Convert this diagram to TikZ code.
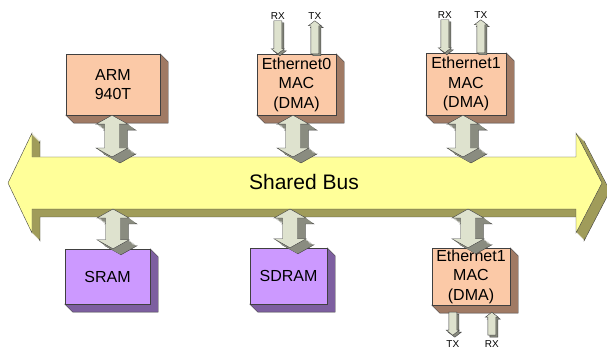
\documentclass[tikz,border=0pt]{standalone}
\usepackage{fontspec}
\setmainfont{Liberation Sans}
\usetikzlibrary{calc}

\definecolor{peach}{RGB}{251,201,167}
\definecolor{peachside}{RGB}{160,122,100}
\definecolor{lilac}{RGB}{204,153,255}
\definecolor{lilacside}{RGB}{125,95,160}
\definecolor{busfill}{RGB}{255,255,153}
\definecolor{busside}{RGB}{160,156,90}
\definecolor{linkfill}{RGB}{222,226,206}
\definecolor{linkside}{RGB}{138,140,128}

% front face of the bus arrow
\newcommand{\busshape}{(8,167) -- (32,217) -- (32,193) -- (576,193) -- (576,217) -- (602,167)
  -- (576,117) -- (576,141) -- (32,141) -- (32,117) -- cycle}
% x, top tip, bottom tip
\newcommand{\dblarrow}[3]{(#1,#2) -- ++(16,-9) -- ++(-8.5,0) -- (#1+7.5,#3+9) -- ++(8.5,0) -- (#1,#3)
  -- ++(-16,9) -- ++(8.5,0) -- (#1-7.5,#2-9) -- ++(-8.5,0) -- cycle}
% x, tip, tail, head length with sign
\newcommand{\oneway}[4]{(#1,#2) -- (#1+6.5,#2#4) -- (#1+4,#2#4) -- (#1+4,#3) -- (#1-4,#3)
  -- (#1-4,#2#4) -- (#1-6.5,#2#4) -- cycle}

\begin{document}
\begin{tikzpicture}[x=1pt,y=1pt,
    box/.style={draw=black!75,fill=#1,align=center,inner sep=0pt,
      font=\fontsize{16}{19.5}\selectfont},
    extrude/.style={append after command={\pgfextra{\let\thisbox\tikzlastnode
      \filldraw[draw=black!75,fill=#1] (\thisbox.north east) -- ++(8,-8)
        -- ($(\thisbox.south east)+(8,-8)$) -- ($(\thisbox.south west)+(8,-8)$)
        -- (\thisbox.south west) -- (\thisbox.south east) -- cycle;}}},
    link/.style={draw=black!75,fill=linkfill},
    linkback/.style={draw=black!75,fill=linkside},
    lbl/.style={font=\fontsize{10}{10}\selectfont,inner sep=1.5pt}]
  \useasboundingbox (0,0) rectangle (607,350);

  % the bus
  \filldraw[draw=black!75,fill=busside,shift={(8,-8)}] \busshape;
  \foreach \d in {7,...,1}
    \fill[busside,shift={(\d,-\d)}] \busshape;
  \filldraw[draw=black!75,fill=busfill] \busshape;
  \node[font=\fontsize{21}{24}\selectfont] (bus) at (304,168) {Shared Bus};
  \coordinate (bustop) at (304,193);
  \coordinate (busbot) at (304,141);

  % blocks
  \node[box=peach,extrude=peachside,minimum width=94pt,minimum height=61pt] (arm) at (113,265.5) {ARM\\940T};
  \node[box=peach,extrude=peachside,minimum width=79pt,minimum height=61pt] (eth0) at (296.5,265.5) {Ethernet0\\MAC\\(DMA)};
  \node[box=peach,extrude=peachside,minimum width=80pt,minimum height=62pt] (ethA) at (466,266) {Ethernet1\\MAC\\(DMA)};
  \node[box=lilac,extrude=lilacside,minimum width=85pt,minimum height=55pt] (sram) at (107.5,73.5) {SRAM};
  \node[box=lilac,extrude=lilacside,minimum width=77pt,minimum height=56pt] (sdram) at (288.5,74) {SDRAM};
  \node[box=peach,extrude=peachside,minimum width=78pt,minimum height=57pt] (ethB) at (471,73.5) {Ethernet1\\MAC\\(DMA)};

  % links to the bus
  \foreach \b/\o in {arm/-1,eth0/-3.5,ethA/-3}{
    \filldraw[linkback] let \p1=([xshift=\o pt]\b.south), \p2=(bustop) in \dblarrow{\x1+8}{\y1-6}{\y2-6};
    \foreach \d in {7,...,1}
      \fill[linkside] let \p1=([xshift=\o pt]\b.south), \p2=(bustop) in \dblarrow{\x1+\d}{\y1-0.75*\d}{\y2-0.75*\d};
    \filldraw[link] let \p1=([xshift=\o pt]\b.south), \p2=(bustop) in \dblarrow{\x1}{\y1}{\y2};
  }
  \foreach \b/\o in {sram/5.5,sdram/1.5,ethB/-3}{
    \filldraw[linkback] let \p1=(busbot), \p2=([xshift=\o pt]\b.north) in \dblarrow{\x2+8}{\y1-6}{\y2-6};
    \foreach \d in {7,...,1}
      \fill[linkside] let \p1=(busbot), \p2=([xshift=\o pt]\b.north) in \dblarrow{\x2+\d}{\y1-0.75*\d}{\y2-0.75*\d};
    \filldraw[link] let \p1=(busbot), \p2=([xshift=\o pt]\b.north) in \dblarrow{\x2}{\y1}{\y2};
  }

  % RX / TX lines
  \foreach \b/\r/\t in {eth0/21/58,ethA/19/55}{
    \filldraw[linkback] let \p1=($(\b.north west)+(\r,0)$) in \oneway{\x1+2}{\y1-2}{\y1+31}{+5};
    \filldraw[link] let \p1=($(\b.north west)+(\r,0)$) in \oneway{\x1}{\y1}{\y1+33}{+5}
      (\x1,\y1+33) node[lbl,above] (rx-\b) {RX};
    \filldraw[linkback] let \p1=($(\b.north west)+(\t,0)$) in \oneway{\x1+2}{\y1+31}{\y1-2}{-5};
    \filldraw[link] let \p1=($(\b.north west)+(\t,0)$) in \oneway{\x1}{\y1+33}{\y1}{-5}
      (\x1,\y1+33) node[lbl,above] (tx-\b) {TX};
  }
  \filldraw[linkback] let \p1=($(ethB.south west)+(21,-7)$) in \oneway{\x1+2}{\y1-25}{\y1-2}{+5};
  \filldraw[link] let \p1=($(ethB.south west)+(21,-7)$) in \oneway{\x1}{\y1-23}{\y1}{+5}
    (\x1,\y1-23) node[lbl,below=4pt] (tx-ethB) {TX};
  \filldraw[linkback] let \p1=($(ethB.south west)+(60,-7)$) in \oneway{\x1+2}{\y1-2}{\y1-25}{-5};
  \filldraw[link] let \p1=($(ethB.south west)+(60,-7)$) in \oneway{\x1}{\y1}{\y1-23}{-5}
    (\x1,\y1-23) node[lbl,below=4pt] (rx-ethB) {RX};
\end{tikzpicture}
\end{document}
